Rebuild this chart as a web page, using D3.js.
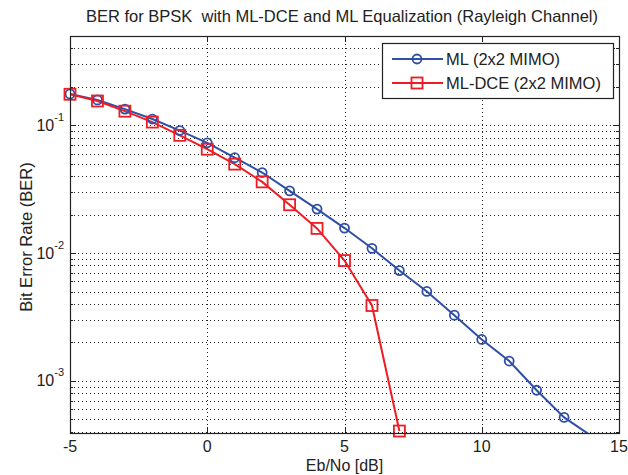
<!DOCTYPE html>
<html>
<head>
<meta charset="utf-8">
<script src="https://cdn.jsdelivr.net/npm/d3@7"></script>
<style>
  body { margin: 0; background: #fff; }
  text { font-family: "Liberation Sans", Arial, sans-serif; fill: #222; }
</style>
</head>
<body>
<svg id="chart"></svg>
<script>
const width = 628;
const height = 475;

// data
const ebnoML = [-5, -4, -3, -2, -1, 0, 1, 2, 3, 4, 5, 6, 7, 8, 9, 10, 11, 12, 13, 14];
const berML = [0.176, 0.158, 0.134, 0.112, 0.091, 0.073, 0.0558, 0.0427, 0.0307, 0.0221,
  0.0157, 0.0109, 0.0073, 0.00501, 0.00327, 0.00211, 0.00143, 0.000845, 0.000518, 0.00037];
const ebnoDCE = [-5, -4, -3, -2, -1, 0, 1, 2, 3, 4, 5, 6, 7];
const berDCE = [0.175, 0.155, 0.129, 0.106, 0.0835, 0.065, 0.0497, 0.0361, 0.0239, 0.0156,
  0.00874, 0.00389, 0.000405];
const xTicks = [-5, 0, 5, 10, 15];
const yMajor = [1e-3, 1e-2, 1e-1];
const yDomain = [3.91e-4, 0.5];

const blue = "#2f4fa6";
const red = "#ee1d25";

const pLeft = 70, pRight = 619, pTop = 36, pBottom = 433;

const x = d3.scaleLinear().domain([-5, 15]).range([pLeft, pRight]);
const y = d3.scaleLog().domain(yDomain).range([pBottom, pTop]);

const svg = d3.select("#chart")
  .attr("width", width)
  .attr("height", height);

svg.append("rect").attr("width", width).attr("height", height).attr("fill", "#fff");

// minor ticks of the log axis (2..9 in each decade, inside the domain)
const yMinor = [];
[-4, -3, -2, -1].forEach(e => {
  for (let m = 2; m <= 9; m++) {
    const v = m * Math.pow(10, e);
    if (v >= yDomain[0] && v <= yDomain[1]) yMinor.push(v);
  }
});

const grid = svg.append("g")
  .attr("stroke", "#222")
  .attr("stroke-width", 1)
  .attr("stroke-dasharray", "1,3");

grid.selectAll("line.gy")
  .data(yMajor.concat(yMinor))
  .enter().append("line")
  .attr("x1", pLeft).attr("x2", pRight)
  .attr("y1", d => Math.round(y(d)) + 0.5)
  .attr("y2", d => Math.round(y(d)) + 0.5);

grid.selectAll("line.gx")
  .data(xTicks.slice(1, -1))
  .enter().append("line")
  .attr("x1", d => Math.round(x(d)) + 0.5)
  .attr("x2", d => Math.round(x(d)) + 0.5)
  .attr("y1", pTop).attr("y2", pBottom);

// tick marks on all four sides, pointing inwards
const ticks = svg.append("g").attr("stroke", "#222").attr("stroke-width", 1);
xTicks.slice(1, -1).forEach(d => {
  const px = Math.round(x(d)) + 0.5;
  ticks.append("line").attr("x1", px).attr("x2", px).attr("y1", pBottom).attr("y2", pBottom - 6);
  ticks.append("line").attr("x1", px).attr("x2", px).attr("y1", pTop).attr("y2", pTop + 6);
});
yMajor.forEach(d => {
  const py = Math.round(y(d)) + 0.5;
  ticks.append("line").attr("x1", pLeft).attr("x2", pLeft + 6).attr("y1", py).attr("y2", py);
  ticks.append("line").attr("x1", pRight).attr("x2", pRight - 6).attr("y1", py).attr("y2", py);
});
yMinor.forEach(d => {
  const py = Math.round(y(d)) + 0.5;
  ticks.append("line").attr("x1", pLeft).attr("x2", pLeft + 3).attr("y1", py).attr("y2", py);
  ticks.append("line").attr("x1", pRight).attr("x2", pRight - 3).attr("y1", py).attr("y2", py);
});

// clip lines to the axes box
svg.append("clipPath").attr("id", "plotClip")
  .append("rect").attr("x", pLeft).attr("y", pTop)
  .attr("width", pRight - pLeft).attr("height", pBottom - pTop);

const line = d3.line()
  .x(d => x(d[0]))
  .y(d => y(d[1]));

const mlData = d3.zip(ebnoML, berML);
const dceData = d3.zip(ebnoDCE, berDCE);

svg.append("path")
  .datum(mlData)
  .attr("clip-path", "url(#plotClip)")
  .attr("fill", "none")
  .attr("stroke", blue)
  .attr("stroke-width", 2)
  .attr("d", line);

svg.append("path")
  .datum(dceData)
  .attr("clip-path", "url(#plotClip)")
  .attr("fill", "none")
  .attr("stroke", red)
  .attr("stroke-width", 2)
  .attr("d", line);

const inside = d => d[1] >= yDomain[0] && d[1] <= yDomain[1];

svg.append("g").selectAll("circle")
  .data(mlData.filter(inside))
  .enter().append("circle")
  .attr("cx", d => x(d[0]))
  .attr("cy", d => y(d[1]))
  .attr("r", 4.5)
  .attr("fill", "none")
  .attr("stroke", blue)
  .attr("stroke-width", 1.8);

svg.append("g").selectAll("rect")
  .data(dceData.filter(inside))
  .enter().append("rect")
  .attr("x", d => x(d[0]) - 5.5)
  .attr("y", d => y(d[1]) - 5.5)
  .attr("width", 11)
  .attr("height", 11)
  .attr("fill", "none")
  .attr("stroke", red)
  .attr("stroke-width", 1.8);

// axes box
svg.append("rect")
  .attr("x", pLeft + 0.5).attr("y", pTop + 0.5)
  .attr("width", pRight - pLeft).attr("height", pBottom - pTop)
  .attr("fill", "none").attr("stroke", "#222").attr("stroke-width", 1.2);

// tick labels
svg.append("g").selectAll("text")
  .data(xTicks)
  .enter().append("text")
  .attr("x", d => x(d))
  .attr("y", pBottom + 19)
  .attr("text-anchor", "middle")
  .style("font-size", "16px")
  .text(d => d);

const yl = svg.append("g").selectAll("text")
  .data(yMajor)
  .enter().append("text")
  .attr("x", pLeft - 6)
  .attr("y", d => y(d) + 5.5)
  .attr("text-anchor", "end")
  .style("font-size", "16px");
yl.append("tspan").text("10");
yl.append("tspan")
  .attr("dy", -10)
  .style("font-size", "11px")
  .text(d => Math.round(Math.log10(d)));

// titles
svg.append("text")
  .attr("x", 342)
  .attr("y", 22)
  .attr("text-anchor", "middle")
  .attr("xml:space", "preserve")
  .style("font-size", "16.5px")
  .style("white-space", "pre")
  .text("BER for BPSK  with ML-DCE and ML Equalization (Rayleigh Channel)");

svg.append("text")
  .attr("x", (pLeft + pRight) / 2)
  .attr("y", 471)
  .attr("text-anchor", "middle")
  .style("font-size", "16px")
  .text("Eb/No [dB]");

svg.append("text")
  .attr("transform", `translate(32, 237) rotate(-90)`)
  .attr("text-anchor", "middle")
  .style("font-size", "16.5px")
  .text("Bit Error Rate (BER)");

// legend
const legend = svg.append("g").attr("transform", "translate(382, 43)");
legend.append("rect")
  .attr("x", 0.5).attr("y", 0.5)
  .attr("width", 231).attr("height", 55)
  .attr("fill", "#fff").attr("stroke", "#222").attr("stroke-width", 1.2);

const legendItems = [
  { label: "ML (2x2 MIMO)", color: blue, marker: "circle" },
  { label: "ML-DCE (2x2 MIMO)", color: red, marker: "square" }
];
legendItems.forEach((item, i) => {
  const ly = 16 + i * 24;
  legend.append("line")
    .attr("x1", 10).attr("x2", 61)
    .attr("y1", ly).attr("y2", ly)
    .attr("stroke", item.color).attr("stroke-width", 2);
  if (item.marker === "circle") {
    legend.append("circle")
      .attr("cx", 35).attr("cy", ly).attr("r", 4.5)
      .attr("fill", "none").attr("stroke", item.color).attr("stroke-width", 1.8);
  } else {
    legend.append("rect")
      .attr("x", 29.5).attr("y", ly - 5.5).attr("width", 11).attr("height", 11)
      .attr("fill", "none").attr("stroke", item.color).attr("stroke-width", 1.8);
  }
  legend.append("text")
    .attr("x", 64)
    .attr("y", ly + 6)
    .style("font-size", "16.5px")
    .text(item.label);
});
</script>
</body>
</html>
